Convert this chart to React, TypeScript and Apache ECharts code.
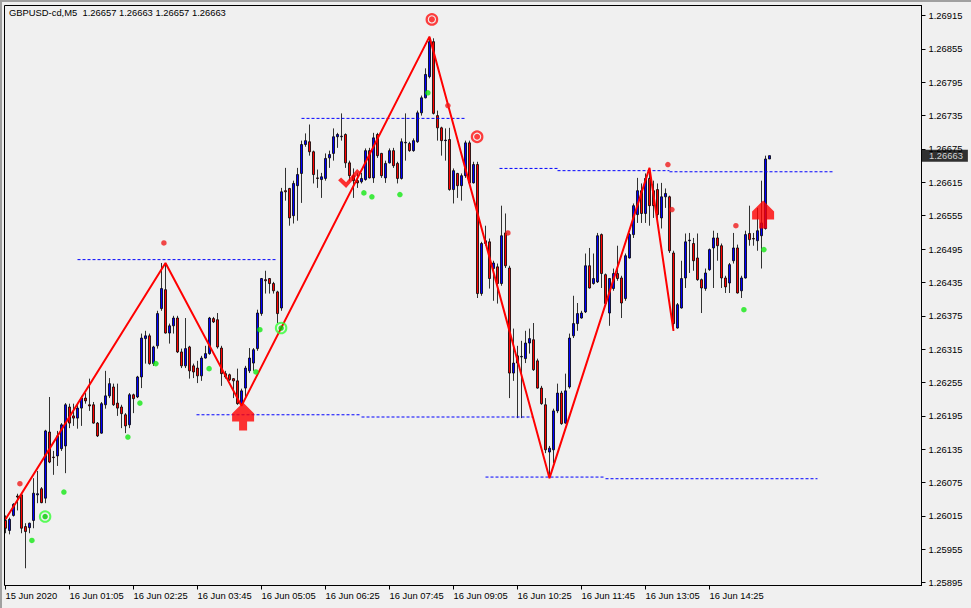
import React, { useEffect, useRef } from 'react';
import * as echarts from 'echarts';

const SYMBOL = 'GBPUSD-cd';
const TIMEFRAME = 'M5';
const FONT = '"Liberation Sans", Arial, sans-serif';
const FONT_SIZE = 9.4;

// one tick label every 16 bars (80 minutes of M5 bars)
const BARS_PER_TICK = 16;
const X_TICK_LABELS = [
  '15 Jun 2020', '16 Jun 01:05', '16 Jun 02:25', '16 Jun 03:45', '16 Jun 05:05', '16 Jun 06:25',
  '16 Jun 07:45', '16 Jun 09:05', '16 Jun 10:25', '16 Jun 11:45', '16 Jun 13:05', '16 Jun 14:25',
];
const SLOT_COUNT = 230; // bar slots visible across the window (empty space right of the last bar)

const Y_MIN = 1.2589;
const Y_MAX = 1.26933;
const Y_TICKS = [
  1.25895, 1.25955, 1.26015, 1.26075, 1.26135, 1.26195, 1.26255, 1.26315, 1.26375,
  1.26435, 1.26495, 1.26555, 1.26615, 1.26675, 1.26735, 1.26795, 1.26855, 1.26915,
];

// [open, close, low, high]
const CANDLES: number[][] = [
  [1.26007, 1.25993, 1.25984, 1.26016], [1.25989, 1.26009, 1.25982, 1.26012], [1.26016, 1.26036, 1.26014, 1.26038],
  [1.26051, 1.26049, 1.26025, 1.26055], [1.26053, 1.25993, 1.25984, 1.26056], [1.25996, 1.25987, 1.25921, 1.26002],
  [1.25994, 1.26002, 1.25984, 1.26003], [1.26007, 1.26056, 1.25993, 1.26083], [1.26053, 1.26055, 1.26038, 1.26096],
  [1.26064, 1.26039, 1.26038, 1.26067], [1.26047, 1.26168, 1.26038, 1.26170], [1.26166, 1.26112, 1.26110, 1.26229],
  [1.26121, 1.26120, 1.26089, 1.26132], [1.26123, 1.26159, 1.26105, 1.26168], [1.26136, 1.26179, 1.26132, 1.26182],
  [1.26141, 1.26215, 1.26092, 1.26218], [1.26211, 1.26182, 1.26173, 1.26217], [1.26195, 1.26191, 1.26177, 1.26217],
  [1.26191, 1.26209, 1.26172, 1.26218], [1.26209, 1.26227, 1.26177, 1.26231], [1.26227, 1.26222, 1.26217, 1.26236],
  [1.26215, 1.26213, 1.26204, 1.26262], [1.26215, 1.26182, 1.26181, 1.26220], [1.26182, 1.26159, 1.26157, 1.26184],
  [1.26164, 1.26217, 1.26163, 1.26220], [1.26215, 1.26231, 1.26208, 1.26276], [1.26231, 1.26253, 1.26227, 1.26263],
  [1.26247, 1.26215, 1.26213, 1.26253], [1.26218, 1.26209, 1.26195, 1.26253], [1.26211, 1.26199, 1.26173, 1.26215],
  [1.26197, 1.26177, 1.26164, 1.26200], [1.26179, 1.26233, 1.26173, 1.26236], [1.26233, 1.26226, 1.26200, 1.26235],
  [1.26229, 1.26265, 1.26227, 1.26267], [1.26265, 1.26335, 1.26245, 1.26343], [1.26334, 1.26339, 1.26289, 1.26348],
  [1.26339, 1.26289, 1.26287, 1.26343], [1.26289, 1.26319, 1.26285, 1.26321], [1.26321, 1.26379, 1.26316, 1.26384],
  [1.26388, 1.26424, 1.26384, 1.26470], [1.26422, 1.26344, 1.26343, 1.26470], [1.26344, 1.26357, 1.26325, 1.26361],
  [1.26357, 1.26371, 1.26343, 1.26375], [1.26371, 1.26310, 1.26308, 1.26375], [1.26310, 1.26285, 1.26281, 1.26316],
  [1.26285, 1.26316, 1.26281, 1.26371], [1.26319, 1.26276, 1.26262, 1.26321], [1.26285, 1.26274, 1.26263, 1.26289],
  [1.26281, 1.26267, 1.26254, 1.26294], [1.26267, 1.26299, 1.26258, 1.26303], [1.26299, 1.26307, 1.26298, 1.26321],
  [1.26307, 1.26371, 1.26305, 1.26373], [1.26370, 1.26364, 1.26362, 1.26373], [1.26368, 1.26319, 1.26316, 1.26380],
  [1.26317, 1.26271, 1.26249, 1.26321], [1.26271, 1.26265, 1.26262, 1.26276], [1.26269, 1.26260, 1.26258, 1.26271],
  [1.26262, 1.26258, 1.26227, 1.26263], [1.26258, 1.26217, 1.26215, 1.26280], [1.26217, 1.26240, 1.26213, 1.26244],
  [1.26245, 1.26281, 1.26226, 1.26285], [1.26276, 1.26299, 1.26272, 1.26317], [1.26290, 1.26314, 1.26276, 1.26317],
  [1.26316, 1.26380, 1.26312, 1.26386], [1.26379, 1.26442, 1.26375, 1.26443], [1.26440, 1.26438, 1.26415, 1.26456],
  [1.26442, 1.26433, 1.26415, 1.26443], [1.26433, 1.26420, 1.26415, 1.26436], [1.26418, 1.26379, 1.26362, 1.26420],
  [1.26389, 1.26598, 1.26384, 1.26605], [1.26600, 1.26598, 1.26582, 1.26641], [1.26604, 1.26551, 1.26537, 1.26605],
  [1.26555, 1.26613, 1.26541, 1.26618], [1.26609, 1.26629, 1.26546, 1.26641], [1.26631, 1.26683, 1.26578, 1.26690],
  [1.26683, 1.26690, 1.26679, 1.26703], [1.26688, 1.26670, 1.26663, 1.26719], [1.26670, 1.26629, 1.26613, 1.26672],
  [1.26623, 1.26622, 1.26605, 1.26638], [1.26620, 1.26625, 1.26587, 1.26632], [1.26622, 1.26658, 1.26618, 1.26667],
  [1.26659, 1.26665, 1.26641, 1.26672], [1.26667, 1.26697, 1.26654, 1.26712], [1.26697, 1.26701, 1.26677, 1.26704],
  [1.26697, 1.26698, 1.26690, 1.26739], [1.26701, 1.26650, 1.26641, 1.26703], [1.26650, 1.26627, 1.26618, 1.26654],
  [1.26627, 1.26618, 1.26587, 1.26640], [1.26618, 1.26614, 1.26605, 1.26632], [1.26616, 1.26622, 1.26613, 1.26632],
  [1.26620, 1.26672, 1.26618, 1.26676], [1.26672, 1.26623, 1.26622, 1.26677], [1.26623, 1.26695, 1.26614, 1.26704],
  [1.26701, 1.26663, 1.26659, 1.26704], [1.26667, 1.26627, 1.26623, 1.26668], [1.26623, 1.26649, 1.26614, 1.26654],
  [1.26650, 1.26672, 1.26649, 1.26676], [1.26672, 1.26645, 1.26641, 1.26677], [1.26649, 1.26622, 1.26613, 1.26652],
  [1.26622, 1.26688, 1.26620, 1.26694], [1.26686, 1.26687, 1.26654, 1.26739], [1.26685, 1.26672, 1.26670, 1.26688],
  [1.26672, 1.26690, 1.26670, 1.26694], [1.26688, 1.26740, 1.26686, 1.26744], [1.26740, 1.26767, 1.26735, 1.26771],
  [1.26767, 1.26809, 1.26766, 1.26820], [1.26805, 1.26868, 1.26802, 1.26877], [1.26868, 1.26739, 1.26737, 1.26874],
  [1.26735, 1.26713, 1.26690, 1.26744], [1.26713, 1.26690, 1.26663, 1.26715], [1.26690, 1.26691, 1.26654, 1.26712],
  [1.26692, 1.26602, 1.26600, 1.26713], [1.26602, 1.26636, 1.26577, 1.26640], [1.26631, 1.26609, 1.26587, 1.26632],
  [1.26609, 1.26627, 1.26582, 1.26631], [1.26627, 1.26686, 1.26623, 1.26690], [1.26686, 1.26614, 1.26613, 1.26690],
  [1.26614, 1.26647, 1.26613, 1.26652], [1.26647, 1.26415, 1.26407, 1.26652], [1.26415, 1.26505, 1.26411, 1.26508],
  [1.26505, 1.26510, 1.26501, 1.26537], [1.26508, 1.26442, 1.26424, 1.26514], [1.26460, 1.26470, 1.26402, 1.26474],
  [1.26463, 1.26433, 1.26397, 1.26469], [1.26433, 1.26519, 1.26429, 1.26573], [1.26524, 1.26465, 1.26461, 1.26559],
  [1.26461, 1.26272, 1.26227, 1.26465], [1.26272, 1.26290, 1.26258, 1.26352], [1.26303, 1.26290, 1.26191, 1.26321],
  [1.26301, 1.26302, 1.26191, 1.26330], [1.26298, 1.26326, 1.26290, 1.26348], [1.26326, 1.26334, 1.26307, 1.26352],
  [1.26332, 1.26278, 1.26276, 1.26362], [1.26294, 1.26245, 1.26244, 1.26298], [1.26245, 1.26217, 1.26215, 1.26249],
  [1.26215, 1.26134, 1.26128, 1.26227], [1.26130, 1.26137, 1.26083, 1.26141], [1.26134, 1.26204, 1.26110, 1.26208],
  [1.26204, 1.26236, 1.26200, 1.26253], [1.26236, 1.26181, 1.26179, 1.26240], [1.26182, 1.26240, 1.26181, 1.26271],
  [1.26247, 1.26335, 1.26244, 1.26343], [1.26339, 1.26361, 1.26335, 1.26411], [1.26361, 1.26379, 1.26348, 1.26398],
  [1.26371, 1.26380, 1.26370, 1.26384], [1.26382, 1.26465, 1.26380, 1.26487], [1.26465, 1.26425, 1.26424, 1.26497],
  [1.26433, 1.26442, 1.26431, 1.26487], [1.26436, 1.26519, 1.26434, 1.26524], [1.26521, 1.26451, 1.26425, 1.26523],
  [1.26449, 1.26397, 1.26393, 1.26451], [1.26380, 1.26442, 1.26357, 1.26443], [1.26424, 1.26451, 1.26420, 1.26460],
  [1.26451, 1.26442, 1.26438, 1.26501], [1.26443, 1.26398, 1.26371, 1.26447], [1.26406, 1.26483, 1.26402, 1.26487],
  [1.26479, 1.26521, 1.26478, 1.26524], [1.26521, 1.26573, 1.26515, 1.26577], [1.26557, 1.26600, 1.26542, 1.26623],
  [1.26600, 1.26559, 1.26542, 1.26613], [1.26559, 1.26622, 1.26542, 1.26631], [1.26622, 1.26573, 1.26537, 1.26641],
  [1.26600, 1.26573, 1.26551, 1.26618], [1.26602, 1.26557, 1.26550, 1.26613], [1.26551, 1.26589, 1.26532, 1.26614],
  [1.26589, 1.26595, 1.26569, 1.26604], [1.26589, 1.26492, 1.26488, 1.26591], [1.26488, 1.26361, 1.26348, 1.26492],
  [1.26353, 1.26395, 1.26352, 1.26398], [1.26389, 1.26442, 1.26388, 1.26474], [1.26443, 1.26508, 1.26425, 1.26523],
  [1.26510, 1.26511, 1.26452, 1.26524], [1.26505, 1.26474, 1.26456, 1.26515], [1.26479, 1.26440, 1.26438, 1.26523],
  [1.26440, 1.26425, 1.26380, 1.26442], [1.26424, 1.26452, 1.26420, 1.26460], [1.26458, 1.26494, 1.26456, 1.26496],
  [1.26497, 1.26515, 1.26425, 1.26528], [1.26515, 1.26501, 1.26474, 1.26524], [1.26501, 1.26443, 1.26425, 1.26505],
  [1.26443, 1.26427, 1.26416, 1.26447], [1.26434, 1.26467, 1.26416, 1.26470], [1.26474, 1.26497, 1.26469, 1.26524],
  [1.26497, 1.26416, 1.26415, 1.26503], [1.26420, 1.26443, 1.26407, 1.26447], [1.26443, 1.26521, 1.26442, 1.26528],
  [1.26523, 1.26512, 1.26501, 1.26573], [1.26514, 1.26513, 1.26501, 1.26524], [1.26510, 1.26528, 1.26492, 1.26569],
  [1.26519, 1.26542, 1.26460, 1.26618], [1.26532, 1.26657, 1.26530, 1.26663], [1.26657, 1.26663, 1.26657, 1.26663],
];

// ZigZag vertices: [bar index, price]
const ZIGZAG = [
  [0, 1.26009], [40, 1.2647], [59, 1.26213], [106, 1.26877], [136, 1.26083], [161, 1.26641], [167, 1.26348],
];

// indicator dots: [bar position, price]
const RED_DOTS = [
  [3.6, 1.26073], [39.6, 1.26506], [110.6, 1.26753], [125.6, 1.26524], [165.6, 1.26647], [166.6, 1.26566], [182.6, 1.26537],
];
const GREEN_DOTS = [
  [6.6, 1.25971], [14.6, 1.26058], [30.6, 1.26157], [33.6, 1.26218], [37.6, 1.26289], [50.9, 1.2628], [62.6, 1.26274],
  [63.6, 1.2635], [89.6, 1.26596], [91.6, 1.26589], [98.6, 1.26593], [105.6, 1.26776], [184.6, 1.26386], [189.6, 1.26494],
];
const GREEN_RINGS = [[9.9, 1.26014], [68.9, 1.26353]];
const RED_RINGS = [[106.6, 1.26908], [117.9, 1.26697]];
const UP_ARROWS = [[59.4, 1.26194], [189.4, 1.26557]];
const CHECK_MARKS = [[85.9, 1.26622]];

// dotted levels: [from bar, to bar, price]
const LEVELS = [
  [18, 68, 1.26476],
  [74, 115, 1.2673],
  [123.5, 138, 1.2664], [138, 166, 1.26636], [166, 206.75, 1.26634],
  [47.75, 89, 1.26197], [89, 131.75, 1.26193],
  [120, 150, 1.26085], [150, 203, 1.26082],
];

const BULL = '#0000ff';
const BEAR = '#ff0000';

const ARROW_PATH = 'path://M11 0 L22 11 L22 19 L15 19 L15 28 L7 28 L7 19 L0 19 L0 11 Z';
const CHECK_PATH = 'path://M0 12 L3 9 L8 14 L19 0 L22 3 L8 20 Z';

export default function App() {
  const ref = useRef<HTMLDivElement>(null);

  useEffect(() => {
    if (!ref.current) return;
    const chart = echarts.init(ref.current, undefined, { renderer: 'svg' });
    const last = CANDLES[CANDLES.length - 1];
    const fmt = (v: number) => v.toFixed(5);
    const title = `${SYMBOL},${TIMEFRAME}\u00a0\u00a0${fmt(last[0])} ${fmt(last[3])} ${fmt(last[2])} ${fmt(last[1])}`;
    const slots = Array.from({ length: SLOT_COUNT }, (_, i) => String(i));
    const showTick = (index: number) => index % BARS_PER_TICK === 0 && index / BARS_PER_TICK < X_TICK_LABELS.length;

    const levelSeries = LEVELS.map(([x0, x1, y]) => ({
      type: 'line',
      xAxisIndex: 1,
      yAxisIndex: 0,
      data: [[x0, y], [x1, y]],
      symbol: 'none',
      silent: true,
      lineStyle: { color: '#0000ff', width: 1, type: [3, 2] },
      z: 3,
    }));

    const option: any = {
      animation: false,
      backgroundColor: '#f0f0f0',
      textStyle: { fontFamily: FONT },
      title: {
        text: title,
        left: 9,
        top: 7.5,
        padding: 0,
        textStyle: { fontSize: FONT_SIZE, fontWeight: 'normal', color: '#000', fontFamily: FONT },
      },
      grid: { left: 5.5, right: 49.5, top: 5.5, bottom: 22.5, containLabel: false },
      xAxis: [
        {
          type: 'category',
          data: slots,
          boundaryGap: false,
          axisLine: { show: true, lineStyle: { color: '#000', width: 1 } },
          axisTick: { show: true, interval: showTick, length: 4, lineStyle: { color: '#000' } },
          axisLabel: {
            interval: showTick,
            formatter: (_v: string, idx: number) => X_TICK_LABELS[idx / BARS_PER_TICK] ?? '',
            align: 'left',
            margin: 5,
            color: '#000',
            fontSize: FONT_SIZE,
            fontFamily: FONT,
          },
          splitLine: { show: false },
        },
        { type: 'value', min: 0, max: SLOT_COUNT - 1, show: false },
      ],
      yAxis: {
        type: 'value',
        position: 'right',
        min: Y_MIN,
        max: Y_MAX,
        axisLine: { show: true, onZero: false, lineStyle: { color: '#000', width: 1 } },
        axisTick: { show: true, length: 4, customValues: Y_TICKS, lineStyle: { color: '#000' } },
        axisLabel: {
          customValues: Y_TICKS,
          formatter: (v: number) => fmt(v),
          margin: 7,
          color: '#000',
          fontSize: FONT_SIZE,
          fontFamily: FONT,
        },
        splitLine: { show: false },
      },
      graphic: [
        { type: 'rect', silent: true, shape: { x: 0, y: 0, width: 971, height: 2 }, style: { fill: '#a0a0a0' } },
        { type: 'rect', silent: true, shape: { x: 0, y: 0, width: 2, height: 608 }, style: { fill: '#a0a0a0' } },
        {
          type: 'rect', silent: true, z: 50,
          shape: { x: 4.5, y: 5.5, width: 917, height: 580 },
          style: { fill: 'none', stroke: '#000', lineWidth: 1 },
        },
      ],
      series: [
        {
          type: 'candlestick',
          xAxisIndex: 0,
          yAxisIndex: 0,
          data: CANDLES,
          barWidth: 2,
          itemStyle: {
            color: BULL,
            color0: BEAR,
            borderColor: '#000',
            borderColor0: '#000',
            borderColorDoji: '#000',
            borderWidth: 0.8,
          },
          z: 2,
        },
        ...levelSeries,
        {
          type: 'line',
          xAxisIndex: 1,
          yAxisIndex: 0,
          data: ZIGZAG,
          symbol: 'none',
          silent: true,
          lineStyle: { color: '#ff0000', width: 2 },
          z: 4,
        },
        {
          type: 'scatter', xAxisIndex: 1, yAxisIndex: 0, data: RED_DOTS, symbol: 'circle', symbolSize: 5.5,
          itemStyle: { color: '#f01c1c' }, silent: true, z: 5,
        },
        {
          type: 'scatter', xAxisIndex: 1, yAxisIndex: 0, data: GREEN_DOTS, symbol: 'circle', symbolSize: 5.5,
          itemStyle: { color: '#14e814' }, silent: true, z: 5,
        },
        {
          type: 'scatter', xAxisIndex: 1, yAxisIndex: 0, data: GREEN_RINGS, symbol: 'circle', symbolSize: 10.5,
          itemStyle: { color: 'rgba(0,0,0,0)', borderColor: '#33ff33', borderWidth: 2 }, silent: true, z: 5,
        },
        {
          type: 'scatter', xAxisIndex: 1, yAxisIndex: 0, data: GREEN_RINGS, symbol: 'circle', symbolSize: 5.5,
          itemStyle: { color: '#00cc00' }, silent: true, z: 5,
        },
        {
          type: 'scatter', xAxisIndex: 1, yAxisIndex: 0, data: RED_RINGS, symbol: 'circle', symbolSize: 10.5,
          itemStyle: { color: 'rgba(0,0,0,0)', borderColor: '#ff1010', borderWidth: 2.2 }, silent: true, z: 5,
        },
        {
          type: 'scatter', xAxisIndex: 1, yAxisIndex: 0, data: RED_RINGS, symbol: 'circle', symbolSize: 6,
          itemStyle: { color: '#ff1010' }, silent: true, z: 5,
        },
        {
          type: 'scatter', xAxisIndex: 1, yAxisIndex: 0, data: UP_ARROWS, symbol: ARROW_PATH, symbolSize: [22, 28],
          itemStyle: { color: '#ff0000' }, silent: true, z: 6,
        },
        {
          type: 'scatter', xAxisIndex: 1, yAxisIndex: 0, data: CHECK_MARKS, symbol: CHECK_PATH, symbolSize: [22, 19],
          itemStyle: { color: '#ff0000' }, silent: true, z: 6,
        },
        {
          // current price tag on the price scale
          type: 'scatter',
          xAxisIndex: 1,
          yAxisIndex: 0,
          data: [[SLOT_COUNT - 1, last[1]]],
          symbol: 'rect',
          symbolSize: 1,
          itemStyle: { color: 'rgba(0,0,0,0)' },
          silent: true,
          clip: false,
          label: {
            show: true,
            position: 'right',
            distance: 0,
            formatter: () => fmt(last[1]),
            color: '#fff',
            backgroundColor: '#000',
            padding: [2, 5, 1, 7],
            fontSize: FONT_SIZE,
            fontFamily: FONT,
          },
          z: 60,
        },
      ],
    };

    chart.setOption(option);
    return () => chart.dispose();
  }, []);

  return (
    <div
      ref={ref}
      style={{ position: 'fixed', left: 0, top: 0, width: 971, height: 608, background: '#f0f0f0' }}
    />
  );
}
